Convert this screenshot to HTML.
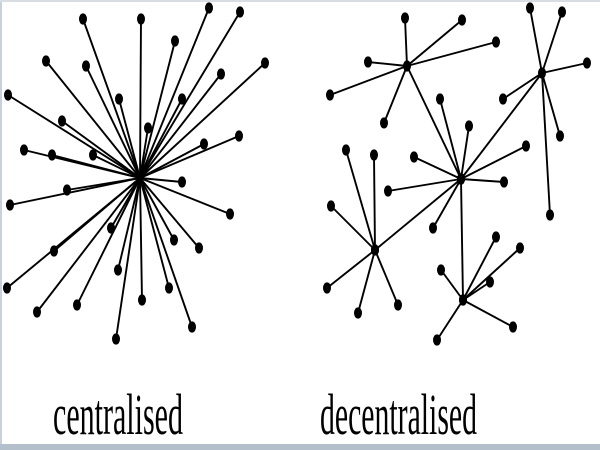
<!DOCTYPE html>
<html><head><style>
html,body{margin:0;padding:0;background:#fff;width:600px;height:450px;overflow:hidden}
</style></head><body>
<svg width="600" height="450" viewBox="0 0 600 450" xmlns="http://www.w3.org/2000/svg">
<rect width="600" height="450" fill="#fff"/>
<rect x="0" y="0" width="2" height="450" fill="#c8d0dc"/>
<rect x="0" y="0" width="600" height="2" fill="#d8dde4"/>
<rect x="0" y="444" width="600" height="6" fill="#b4bfcc"/>
<g id="c" stroke="#000" stroke-width="1.9" fill="#000"></g>
<g id="d" stroke="#000" stroke-width="1.9" fill="#000"></g>
<text x="53" y="434" font-family="Liberation Serif, serif" font-size="58" textLength="130" lengthAdjust="spacingAndGlyphs">centralised</text>
<text x="320" y="434" font-family="Liberation Serif, serif" font-size="58" textLength="157" lengthAdjust="spacingAndGlyphs">decentralised</text>
</svg>
<script>
var NS="http://www.w3.org/2000/svg";
function star(g,h,pts){
  pts.forEach(function(p){
    var l=document.createElementNS(NS,"line");
    l.setAttribute("x1",h[0]);l.setAttribute("y1",h[1]);l.setAttribute("x2",p[0]);l.setAttribute("y2",p[1]);
    g.appendChild(l);
  });
  pts.concat([h]).forEach(function(p){
    var e=document.createElementNS(NS,"ellipse");
    e.setAttribute("cx",p[0]);e.setAttribute("cy",p[1]);e.setAttribute("rx",4);e.setAttribute("ry",5.6);e.setAttribute("stroke","none");
    g.appendChild(e);
  });
}
var c=document.getElementById("c"),d=document.getElementById("d");
star(c,[140,178],[[83,19],[141,19],[209,8],[240,12],[175,41],[46,61],[86,66],[265,63],[221,74],[8,95],[119,99],[182,99],[62,121],[148,128],[24,150],[52,155],[93,155],[239,136],[204,144],[182,182],[10,205],[67,190],[230,214],[111,228],[174,240],[199,248],[54,251],[118,270],[7,288],[169,288],[142,300],[37,312],[77,305],[192,327],[116,339]]);
star(d,[407,66],[[405,18],[462,20],[496,42],[368,62],[330,95],[384,123],[461,179]]);
star(d,[542,73],[[530,8],[562,12],[587,63],[503,99],[560,136],[550,215],[461,179]]);
star(d,[461,179],[[440,99],[469,126],[414,157],[526,146],[504,182],[388,191],[433,228],[375,250],[463,300]]);
star(d,[375,250],[[346,150],[374,155],[331,206],[327,288],[358,313],[398,305]]);
star(d,[463,300],[[496,237],[520,248],[441,270],[490,282],[513,327],[437,340]]);
</script>
</body></html>
